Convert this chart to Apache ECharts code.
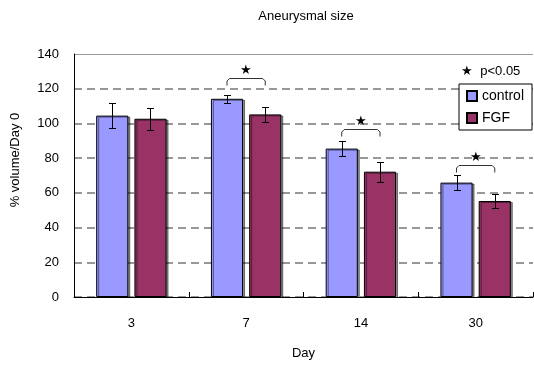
<!DOCTYPE html>
<html>
<head>
<meta charset="utf-8">
<script src="https://cdn.jsdelivr.net/npm/echarts@6/dist/echarts.min.js"></script>
<style>
  html, body { margin: 0; padding: 0; background: #fff; }
  #chart { width: 534px; height: 367px; }
</style>
</head>
<body>
<div id="chart"></div>
<script>
// Aneurysmal size, % volume relative to day 0

var days = ['3', '7', '14', '30'];
var controlMean = [104.5, 114.2, 85.5, 65.9];
var controlErr = [7.0, 2.2, 4.2, 4.2];
var fgfMean = [102.7, 105.2, 72.2, 55.3];
var fgfErr = [6.3, 4.3, 5.8, 4.2];
// height of the significance bracket per day (null = none)
var sigLevel = [null, 126, 97, 76];
var yTicks = [0, 20, 40, 60, 80, 100, 120, 140];

var FONT = 'Liberation Sans';
var BAR_W = 0.28, BAR_GAP = 0.19;
// distance from category centre to each bar centre, as share of the band
var OFFSET = BAR_W / 2 + BAR_W * BAR_GAP / 2;

function errData(means, errs) {
    return means.map(function (m, i) { return [i, m, errs[i]]; });
}

function errRender(sign) {
    return function (params, api) {
        var i = api.value(0);
        var bw = api.size([1, 0])[0];
        var c = api.coord([i, api.value(1)]);
        var x = Math.round(c[0] + sign * OFFSET * bw) + 0.5;
        var hi = Math.round(api.coord([i, api.value(1) + api.value(2)])[1]) + 0.5;
        var lo = Math.round(api.coord([i, api.value(1) - api.value(2)])[1]) + 0.5;
        var style = { stroke: '#000', lineWidth: 1 };
        return {
            type: 'group',
            children: [
                { type: 'line', shape: { x1: x, y1: hi, x2: x, y2: lo }, style: style },
                { type: 'line', shape: { x1: x - 3.5, y1: hi, x2: x + 3.5, y2: hi }, style: style },
                { type: 'line', shape: { x1: x - 3.5, y1: lo, x2: x + 3.5, y2: lo }, style: style }
            ]
        };
    };
}

var sigData = [];
sigLevel.forEach(function (v, i) { if (v != null) sigData.push([i, v]); });

function sigRender(params, api) {
    var i = api.value(0);
    var bw = api.size([1, 0])[0];
    var c = api.coord([i, api.value(1)]);
    var x1 = c[0] - OFFSET * bw, x2 = c[0] + OFFSET * bw, y = Math.round(c[1]) + 0.5;
    return {
        type: 'group',
        children: [
            {
                type: 'polyline',
                shape: { points: [[x1, y + 7], [x1, y + 2.5], [x1 + 2.5, y], [x2 - 2.5, y], [x2, y + 2.5], [x2, y + 7]] },
                style: { stroke: '#333', lineWidth: 1, fill: null }
            },
            {
                type: 'text',
                style: { text: '★', x: c[0], y: y - 8, align: 'center', verticalAlign: 'middle', font: '13px ' + FONT, fill: '#000' }
            }
        ]
    };
}

var chart = echarts.init(document.getElementById('chart'));

var option = {
    animation: false,
    title: {
        text: 'Aneurysmal size',
        left: 301,
        top: 5,
        textAlign: 'center',
        textStyle: { fontFamily: FONT, fontSize: 13, fontWeight: 'normal', color: '#000' }
    },
    legend: {
        data: ['control', 'FGF'],
        orient: 'vertical',
        left: 459,
        top: 84,
        padding: [5, 8, 5, 7],
        itemGap: 8,
        itemWidth: 10,
        itemHeight: 10,
        icon: 'rect',
        backgroundColor: '#fff',
        borderColor: '#000',
        borderWidth: 1,
        textStyle: { fontFamily: FONT, fontSize: 14, color: '#000' }
    },
    graphic: [{
        type: 'text',
        left: 461,
        top: 65,
        style: { text: '★  p<0.05', font: '13px ' + FONT, fill: '#000' }
    }],
    grid: { left: 74, right: 1, top: 54, bottom: 70 },
    xAxis: {
        type: 'category',
        data: days,
        name: 'Day',
        nameLocation: 'middle',
        nameGap: 50,
        nameTextStyle: { fontFamily: FONT, fontSize: 13, color: '#000' },
        axisLine: { lineStyle: { color: '#000', width: 1 } },
        axisTick: { show: true, inside: true, length: 5, lineStyle: { color: '#000' } },
        axisLabel: { fontFamily: FONT, fontSize: 13, color: '#000', margin: 20 }
    },
    yAxis: [{
        type: 'value',
        min: yTicks[0],
        max: yTicks[yTicks.length - 1],
        interval: yTicks[1] - yTicks[0],
        name: '% volume/Day 0',
        nameLocation: 'middle',
        nameGap: 52,
        nameTextStyle: { fontFamily: FONT, fontSize: 13, color: '#000', padding: [0, 0, 0, 31] },
        axisLine: { show: true, lineStyle: { color: '#000', width: 1 } },
        axisTick: { show: false },
        axisLabel: { fontFamily: FONT, fontSize: 13, color: '#000', margin: 15 },
        splitLine: { show: true, showMaxLine: false, lineStyle: { color: '#777', type: [8, 5], width: 1.5 } }
    }, {
        // only used to draw the solid grey line at the top of the range
        type: 'value',
        position: 'left',
        min: yTicks[0],
        max: yTicks[yTicks.length - 1],
        interval: yTicks[yTicks.length - 1],
        axisLine: { show: false },
        axisTick: { show: false },
        axisLabel: { show: false },
        splitLine: { show: true, showMinLine: false, showMaxLine: true, lineStyle: { color: '#999', type: 'solid', width: 1 } }
    }],
    series: [
        {
            name: 'control',
            type: 'bar',
            data: controlMean,
            barWidth: (BAR_W * 100) + '%',
            barGap: (BAR_GAP * 100) + '%',
            itemStyle: {
                color: '#9999FF',
                borderColor: '#000',
                borderWidth: 1,
                shadowColor: 'rgba(0,0,0,0.45)',
                shadowOffsetX: 2,
                shadowOffsetY: 1,
                shadowBlur: 0
            },
            z: 2
        },
        {
            name: 'FGF',
            type: 'bar',
            data: fgfMean,
            barWidth: (BAR_W * 100) + '%',
            itemStyle: {
                color: '#993366',
                borderColor: '#000',
                borderWidth: 1,
                shadowColor: 'rgba(0,0,0,0.45)',
                shadowOffsetX: 2,
                shadowOffsetY: 1,
                shadowBlur: 0
            },
            z: 2
        },
        {
            type: 'custom',
            data: errData(controlMean, controlErr),
            renderItem: errRender(-1),
            encode: { x: 0, y: 1 },
            z: 5
        },
        {
            type: 'custom',
            data: errData(fgfMean, fgfErr),
            renderItem: errRender(1),
            encode: { x: 0, y: 1 },
            z: 5
        },
        {
            type: 'custom',
            data: sigData,
            renderItem: sigRender,
            encode: { x: 0, y: 1 },
            z: 5
        }
    ]
};

chart.setOption(option);
</script>
</body>
</html>
